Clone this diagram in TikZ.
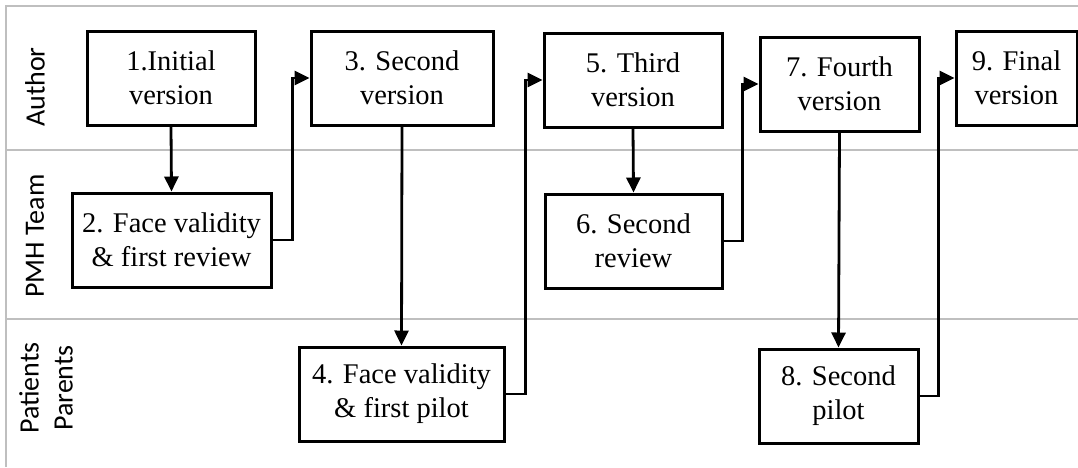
\documentclass[tikz,border=0pt]{standalone}
\usepackage{fontspec}
\setmainfont{Liberation Serif}
\newfontfamily\lanefont{Carlito}
\usetikzlibrary{arrows.meta}

\begin{document}
\begin{tikzpicture}[x=1pt, y=-1pt,
                          stagebox/.style={rectangle, draw, line width=3pt, minimum height=94pt, inner sep=0pt, align=center, font=\fontsize{28.5}{34}\selectfont},
                          lanelabel/.style={rotate=90, align=center, font=\lanefont\fontsize{28}{34}\selectfont},
                          laneline/.style={draw=black!25, line width=2pt},
                          arr/.style={line width=2.8pt, -{Triangle[length=15pt, width=14pt]}},
                      ]
                      \useasboundingbox (0,0) rectangle (1078,467);

                      % Lanes
                      \coordinate (lane_tl) at (6,6);
                      \coordinate (lane_tr) at (1078,6);
                      \coordinate (lane_bl) at (6,467);
                      \draw[laneline] (lane_bl) -- (lane_tl) -- (lane_tr);
                      \draw[laneline] (6,150) -- (1078,150);
                      \draw[laneline] (6,319) -- (1078,319);

                      \node[lanelabel]        (author)      at (35,87)        {Author};
                      \node[lanelabel]        (pmh_team)    at (35,236)       {PMH Team};
                      \node[lanelabel]        (patients)    at (46,388)       {Patients\\Parents};

                      % Nodes
                      \node[stagebox, minimum width=168pt]   (initial)     at (171,78)       {1.Initial\\version};
                      \node[stagebox, minimum width=199pt]   (review_1)    at (171.5,240)    {2. Face validity\\\& first review};
                      \node[stagebox, minimum width=182pt]   (second)      at (402,78)       {3. Second\\version};
                      \node[stagebox, minimum width=205pt]   (pilot_1)     at (401.5,394)    {4. Face validity\\\& first pilot};
                      \node[stagebox, minimum width=178pt]   (third)       at (633,80)       {5. Third\\version};
                      \node[stagebox, minimum width=177pt]   (review_2)    at (633.5,241)    {6. Second\\review};
                      \node[stagebox, minimum width=159pt]   (fourth)      at (839.5,84)     {7. Fourth\\version};
                      \node[stagebox, minimum width=159pt]   (pilot_2)     at (838.5,396)    {8. Second\\pilot};
                      \node[stagebox, minimum width=121pt]   (final)       at (1016.5,78)    {9. Final\\version};

                      %Lines
                      \draw[arr] (initial.south) -- (review_1.north);
                      \draw[arr] (review_1.east) -- ++(20,0) |- (second.west);
                      \draw[arr] (second.south) -- (pilot_1.north);
                      \draw[arr] (pilot_1.east) -- ++(20,0) |- (third.west);
                      \draw[arr] (third.south) -- (review_2.north);
                      \draw[arr] (review_2.east) -- ++(19,0) |- (fourth.west);
                      \draw[arr] (fourth.south) -- (pilot_2.north);
                      \draw[arr] (pilot_2.east) -- ++(19,0) |- (final.west);
                  \end{tikzpicture}
\end{document}
